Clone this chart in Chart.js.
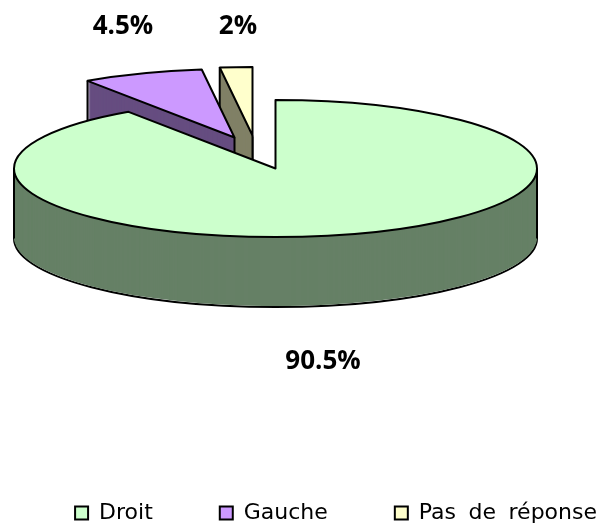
<!DOCTYPE html>
<html>
<head>
<meta charset="utf-8">
<style>html,body{margin:0;padding:0;background:#fff}#w{width:597px;height:524px;position:relative}</style>
<script src="https://cdn.jsdelivr.net/npm/chart.js@4"></script>
</head>
<body>
<div id="w"><canvas id="c"></canvas></div>
<script>
const categories = ['Droit', 'Gauche', 'Pas de réponse'];
const sliceValues = [90.5, 7.5, 2];
const valueLabels = ['90.5%', '4.5%', '2%'];
const topColors = ['#CCFFCC', '#CC99FF', '#FFFFCC'];
const wallColors = ['#668066', '#664D80', '#808066'];

const PIE = {cx: 275.5, cy: 168.5, squash: 0.262, depth: 70, line: 2};
const EXPLODE = [[0, 0], [-41, -31], [-23, -33]];
const LABEL_AT = [[323, 362], [123, 27], [238, 27]];
const LEGEND_GAP = 67;
const LEGEND_MID_Y = 513;
const LEGEND_END_X = 597;

function fillOptions(color) {
  return {backgroundColor: color, borderColor: color, borderWidth: 0, borderAlign: 'center',
    borderRadius: 0, borderJoinStyle: 'round', borderDash: [], borderDashOffset: 0,
    offset: 0, spacing: 0, circular: true};
}
function place(ctx, arc, i, d) {
  ctx.translate(PIE.cx + EXPLODE[i][0], PIE.cy + EXPLODE[i][1] + d);
  ctx.scale(1, PIE.squash);
  ctx.translate(-arc.x, -arc.y);
}
function fillLayer(ctx, arc, i, d, color) {
  const saved = arc.options;
  arc.options = fillOptions(color);
  ctx.save();
  place(ctx, arc, i, d);
  arc.draw(ctx);
  ctx.restore();
  arc.options = saved;
}
function strokeOutline(ctx, arc, i, d) {
  ctx.save();
  place(ctx, arc, i, d);
  ctx.beginPath();
  ctx.moveTo(arc.x, arc.y);
  ctx.arc(arc.x, arc.y, arc.outerRadius, arc.startAngle, arc.endAngle);
  ctx.closePath();
  ctx.restore();
  ctx.stroke();
}
function inArc(a, arc) {
  for (let k = -1; k <= 1; k++) {
    const t = a + k * 2 * Math.PI;
    if (t >= arc.startAngle && t <= arc.endAngle) return true;
  }
  return false;
}
function strokeVerticals(ctx, arc, i) {
  const ox = PIE.cx + EXPLODE[i][0];
  const oy = PIE.cy + EXPLODE[i][1];
  const pts = [[ox, oy]];
  const angles = [arc.startAngle, arc.endAngle];
  if (inArc(0, arc)) angles.push(0);
  if (inArc(Math.PI, arc)) angles.push(Math.PI);
  for (const a of angles) {
    pts.push([ox + Math.cos(a) * arc.outerRadius, oy + Math.sin(a) * arc.outerRadius * PIE.squash]);
  }
  const sorted = pts.slice().sort((p, q) => p[0] - q[0]);
  for (const p of [sorted[0], sorted[sorted.length - 1]]) {
    ctx.beginPath();
    ctx.moveTo(p[0], p[1]);
    ctx.lineTo(p[0], p[1] + PIE.depth);
    ctx.stroke();
  }
}
const pie3d = {
  id: 'pie3d',
  beforeLayout(chart) { chart.ctx.wordSpacing = '5.5px'; },
  beforeDraw(chart) { chart.ctx.wordSpacing = '5.5px'; },
  afterLayout(chart) {
    const lg = chart.legend;
    const h = lg.height;
    lg.top = LEGEND_MID_Y - 11 - LEGEND_GAP;
    lg.bottom = lg.top + h;
    lg.left = 0;
    lg.right = LEGEND_END_X + LEGEND_GAP;
  },
  beforeDatasetsDraw(chart) {
    const ctx = chart.ctx;
    const arcs = chart.getDatasetMeta(0).data;
    ctx.save();
    ctx.strokeStyle = '#000';
    ctx.lineWidth = PIE.line;
    ctx.lineJoin = 'round';
    for (const i of [2, 1, 0]) {
      const arc = arcs[i];
      strokeOutline(ctx, arc, i, PIE.depth);
      for (let d = PIE.depth - 1; d >= 1; d--) fillLayer(ctx, arc, i, d, wallColors[i]);
      strokeVerticals(ctx, arc, i);
      fillLayer(ctx, arc, i, 0, topColors[i]);
      strokeOutline(ctx, arc, i, 0);
    }
    ctx.fillStyle = '#000';
    ctx.font = 'bold 26px "Open Sans"';
    ctx.textAlign = 'center';
    ctx.textBaseline = 'middle';
    valueLabels.forEach((t, i) => ctx.fillText(t, LABEL_AT[i][0], LABEL_AT[i][1]));
    ctx.restore();
    return false;
  }
};

new Chart(document.getElementById('c'), {
  type: 'pie',
  data: {
    labels: categories,
    datasets: [{
      data: sliceValues,
      backgroundColor: topColors,
      borderColor: '#000',
      borderWidth: 2
    }]
  },
  plugins: [pie3d],
  options: {
    responsive: true,
    maintainAspectRatio: false,
    animation: false,
    radius: 261.5,
    layout: {padding: {right: -LEGEND_GAP}},
    plugins: {
      tooltip: {enabled: false},
      legend: {
        position: 'bottom',
        align: 'end',
        labels: {
          boxWidth: 13,
          boxHeight: 13,
          padding: LEGEND_GAP,
          color: '#000',
          font: {family: '"DejaVu Sans"', size: 22}
        }
      }
    }
  }
});
</script>
</body>
</html>
